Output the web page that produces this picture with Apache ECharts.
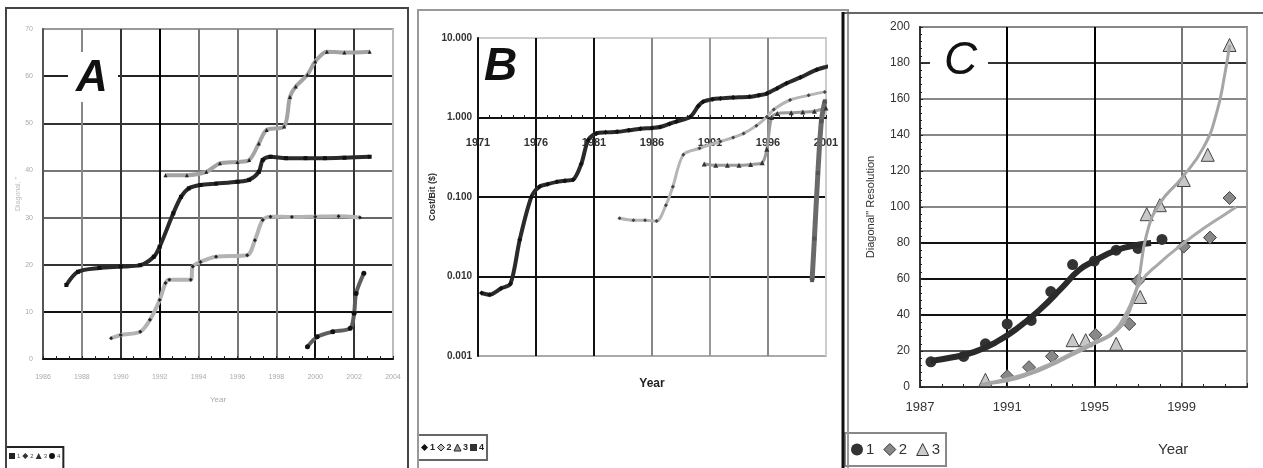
<!DOCTYPE html>
<html><head><meta charset="utf-8">
<script src="https://cdn.jsdelivr.net/npm/echarts@6/dist/echarts.min.js"></script>
<style>html,body{margin:0;padding:0;background:#fff}#c{width:1263px;height:468px}</style>
</head><body><div id="c"></div>
<script>
// ---------- Panel A : year, diagonal ----------
const aXTicks = [1986, 2004, 2];
const aYTicks = [0, 70, 10];
const a1 = [[1987.2,15.7],[1987.8,18.5],[1988.9,19.3],[1990.0,19.6],[1991.0,19.9],[1991.7,21.7],[1992.0,23.8],[1992.7,30.9],[1993.1,34.4],[1993.5,36.2],[1994.1,36.9],[1994.9,37.2],[1996.0,37.6],[1996.6,38.0],[1997.1,39.7],[1997.3,42.2],[1997.7,42.9],[1998.5,42.6],[1999.5,42.6],[2000.5,42.6],[2001.5,42.7],[2002.8,42.9]];
const a2 = [[1989.5,4.4],[1990.0,5.1],[1991.0,5.8],[1991.5,8.3],[1992.0,12.5],[1992.3,16.1],[1992.5,16.8],[1993.6,16.8],[1993.7,19.6],[1994.1,20.6],[1994.9,21.7],[1996.5,22.0],[1996.9,25.2],[1997.3,29.5],[1997.7,30.2],[1998.8,30.1],[2000.0,30.2],[2001.2,30.3],[2002.3,30.0]];
const a3 = [[1992.3,39.0],[1993.4,39.0],[1994.4,39.7],[1995.1,41.5],[1996.0,41.8],[1996.6,42.2],[1997.1,45.7],[1997.5,48.6],[1998.4,49.3],[1998.7,55.6],[1999.0,57.8],[1999.6,60.3],[2000.0,63.1],[2000.6,65.2],[2001.5,65.0],[2002.8,65.2]];
const a4 = [[1999.6,2.6],[2000.1,4.7],[2000.9,5.8],[2001.8,6.5],[2002.0,9.7],[2002.1,13.9],[2002.5,18.2]];
const aNames = ['1','2','3','4'];

// ---------- Panel B : year, log value ----------
const bXTicks = [1971, 2001, 5];
const bYLabels = [0.001, 0.01, 0.1, 1, 10];
const b1 = [[1971.3,0.0062],[1972.0,0.0059],[1973.0,0.0071],[1973.8,0.0081],[1974.6,0.029],[1975.6,0.10],[1976.3,0.135],[1977.0,0.145],[1977.8,0.155],[1978.5,0.16],[1979.2,0.165],[1979.9,0.26],[1980.5,0.52],[1981.2,0.63],[1982.0,0.65],[1983.0,0.66],[1984.0,0.69],[1985.0,0.72],[1986.0,0.74],[1986.7,0.76],[1987.5,0.83],[1988.1,0.89],[1989.3,1.02],[1990.0,1.4],[1990.4,1.58],[1991.2,1.7],[1991.9,1.74],[1993.0,1.78],[1994.4,1.82],[1995.2,1.9],[1995.9,2.0],[1996.8,2.34],[1997.6,2.7],[1998.8,3.2],[2000.2,4.0],[2001.2,4.4]];
const b2 = [[1983.2,0.054],[1984.4,0.051],[1985.4,0.051],[1986.4,0.050],[1987.2,0.079],[1987.8,0.135],[1988.7,0.34],[1990.1,0.41],[1991.9,0.50],[1993.0,0.56],[1993.9,0.63],[1995.0,0.79],[1995.9,1.02],[1996.5,1.26],[1997.9,1.66],[1999.5,1.9],[2000.9,2.1]];
const b3 = [[1990.5,0.26],[1991.5,0.25],[1992.5,0.25],[1993.5,0.25],[1994.5,0.257],[1995.5,0.27],[1995.9,0.40],[1996.3,1.0],[1996.8,1.12],[1998.0,1.15],[1999.0,1.17],[2000.0,1.2],[2001.0,1.32]];
const b4 = [[1999.8,0.009],[2000.0,0.03],[2000.3,0.2],[2000.6,0.9],[2000.9,1.6]];
const bNames = ['1','2','3','4'];

// ---------- Panel C : year, diagonal resolution ----------
const cXTicks = [1987, 2002, 4];
const cYTicks = [0, 200, 20];
const c1Pts = [[1987.5,14],[1989.0,17],[1990.0,24],[1991.0,35],[1992.1,37],[1993.0,53],[1994.0,68],[1995.0,70],[1996.0,76],[1997.0,77],[1998.1,82]];
const c2Pts = [[1991.0,6],[1992.0,11],[1993.05,17],[1995.05,29],[1996.6,35],[1997.0,59],[1999.1,78],[2000.3,83],[2001.2,105]];
const c3Pts = [[1990.0,4],[1994.0,26],[1994.6,26],[1996.0,24],[1997.1,50],[1997.4,96],[1998.0,101],[1999.1,115],[2000.2,129],[2001.2,190]];
const c1Trend = [[1987.5,14.5],[1988.5,16.5],[1989.5,19.5],[1990.5,25],[1991.5,33],[1992.5,43],[1993.5,55],[1994.3,65],[1995.0,70],[1996.0,76],[1997.0,79],[1997.6,80]];
const c2Trend = [[1990.0,2],[1991.0,4.5],[1992.0,8],[1993.0,13],[1994.0,19],[1995.0,25],[1995.8,30],[1996.5,42],[1997.1,58],[1998.0,69],[1999.0,79],[2000.0,88],[2001.0,96],[2001.5,100]];
const c3Trend = [[1989.8,1.5],[1991.0,3.5],[1992.0,7],[1993.0,12],[1994.0,18],[1995.0,24],[1996.0,31],[1996.6,42],[1997.0,58],[1997.4,85],[1998.0,102],[1999.0,116],[2000.0,133],[2000.6,152],[2001.0,175],[2001.2,190]];
const cNames = ['1','2','3'];

// ---------- helpers ----------
const shift = (arr, base) => arr.map(p => [+(p[0] - base).toFixed(3), p[1]]);
const NARROW = '"Liberation Sans Narrow","Liberation Sans",Arial,sans-serif';
const SANS = '"Liberation Sans",Arial,sans-serif';

const chart = echarts.init(document.getElementById('c'), null, {renderer: 'canvas'});

const option = {
  backgroundColor: '#fff',
  animation: false,
  grid: [
    {left: 43, top: 29, width: 350, height: 330, show: true, borderColor: '#bbb', borderWidth: 2, backgroundColor: '#fff'},
    {left: 478, top: 38, width: 348, height: 318, show: true, borderColor: '#c8c8c8', borderWidth: 2, backgroundColor: '#fff'},
    {left: 920, top: 27, width: 327, height: 360, show: true, borderColor: '#888', borderWidth: 2, backgroundColor: '#fff'}
  ],
  xAxis: [
    {type: 'value', gridIndex: 0, min: aXTicks[0], max: aXTicks[1], interval: aXTicks[2],
     axisLine: {lineStyle: {color: '#111', width: 2}},
     axisTick: {show: true, inside: true, length: 3, lineStyle: {color: '#222'}},
     minorTick: {show: true, splitNumber: 3, length: 3, lineStyle: {color: '#222'}},
     axisLabel: {formatter: v => String(v), fontSize: 7, color: '#aaa', margin: 15, fontFamily: NARROW},
     splitLine: {show: true, lineStyle: {width: 2, color: ['#111','#888','#333','#000','#777','#777','#777','#111','#333','#bbb']}},
     name: 'Year', nameLocation: 'middle', nameGap: 37, nameTextStyle: {fontSize: 8, color: '#aaa', fontFamily: SANS}},
    {type: 'value', gridIndex: 1, min: 0, max: bXTicks[1] - bXTicks[0], interval: bXTicks[2], offset: -238,
     axisLine: {onZero: false, lineStyle: {color: '#111', width: 2}},
     axisTick: {show: true, inside: true, length: 3, lineStyle: {color: '#222'}},
     minorTick: {show: true, splitNumber: 5, length: 3, lineStyle: {color: '#222'}},
     axisLabel: {formatter: v => String(v + bXTicks[0]), fontSize: 11, fontWeight: 'bold', color: '#333', margin: 19, fontFamily: NARROW},
     splitLine: {show: true, lineStyle: {width: 2, color: ['#111','#111','#111','#888','#999','#888','#ccc']}},
     name: 'Year', nameLocation: 'middle', nameGap: 260, nameTextStyle: {fontSize: 12, fontWeight: 'bold', color: '#222', fontFamily: NARROW}},
    {type: 'value', gridIndex: 2, min: 0, max: cXTicks[1] - cXTicks[0], interval: cXTicks[2],
     axisLine: {lineStyle: {color: '#333', width: 2}},
     axisTick: {show: true, inside: true, length: 4, lineStyle: {color: '#222'}},
     minorTick: {show: true, splitNumber: 4, length: 3, lineStyle: {color: '#222'}},
     axisLabel: {formatter: v => String(v + cXTicks[0]), showMaxLabel: false, fontSize: 13, color: '#333', margin: 14, fontFamily: NARROW},
     splitLine: {show: true, lineStyle: {width: 2, color: ['#000','#000','#000','#777','#999']}}}
  ],
  yAxis: [
    {type: 'value', gridIndex: 0, min: aYTicks[0], max: aYTicks[1], interval: aYTicks[2],
     axisLine: {lineStyle: {color: '#555', width: 2}},
     axisTick: {show: false},
     axisLabel: {fontSize: 7, color: '#aaa', margin: 10, fontFamily: NARROW},
     splitLine: {show: true, lineStyle: {width: 2, color: ['#111','#111','#333','#666','#777','#333','#222','#999']}},
     name: 'Diagonal, "', nameLocation: 'middle', nameGap: 21, nameTextStyle: {fontSize: 7, color: '#bbb', fontFamily: SANS}},
    {type: 'log', gridIndex: 1, logBase: 10, min: bYLabels[0], max: bYLabels[bYLabels.length - 1],
     axisLine: {lineStyle: {color: '#111', width: 2}},
     axisTick: {show: false},
     axisLabel: {formatter: v => Number(v).toFixed(3), fontSize: 10, fontWeight: 'bold', color: '#333', margin: 6, fontFamily: NARROW},
     splitLine: {show: true, lineStyle: {width: 2, color: ['#aaa','#111','#111','#111','#ccc']}},
     name: 'Cost/Bit ($)', nameLocation: 'middle', nameGap: 37, nameTextStyle: {fontSize: 9, fontWeight: 'bold', color: '#333', fontFamily: NARROW}},
    {type: 'value', gridIndex: 2, min: cYTicks[0], max: cYTicks[1], interval: cYTicks[2],
     axisLine: {lineStyle: {color: '#333', width: 2}},
     axisTick: {show: true, inside: true, length: 3, lineStyle: {color: '#222'}},
     minorTick: {show: true, splitNumber: 5, length: 2, lineStyle: {color: '#222'}},
     axisLabel: {fontSize: 12, color: '#333', margin: 10, fontFamily: NARROW},
     splitLine: {show: true, lineStyle: {width: 2, color: ['#333','#555','#111','#111','#111','#888','#888','#888','#888','#333','#888']}},
     name: 'Diagonal" Resolution', nameLocation: 'middle', nameGap: 44, nameTextStyle: {fontSize: 11, color: '#333', fontFamily: NARROW}}
  ],
  legend: [
    {left: 6, top: 447, selectedMode: false, itemWidth: 6, itemHeight: 6, itemGap: 2,
     padding: [6, 3, 10, 3], borderColor: '#222', borderWidth: 2, backgroundColor: '#fff',
     formatter: n => n.slice(1), textStyle: {fontSize: 6, color: '#444', padding: [0, 0, 0, -3]},
     data: [{name: 'A1', icon: 'rect', itemStyle: {color: '#222'}}, {name: 'A2', icon: 'diamond', itemStyle: {color: '#333'}},
            {name: 'A3', icon: 'triangle', itemStyle: {color: '#333'}}, {name: 'A4', icon: 'circle', itemStyle: {color: '#111'}}]},
    {left: 418, top: 435, selectedMode: false, itemWidth: 7, itemHeight: 7, itemGap: 2,
     padding: [8, 3, 8, 3], borderColor: '#666', borderWidth: 2, backgroundColor: '#fff',
     formatter: n => n.slice(1), textStyle: {fontSize: 9, fontWeight: 'bold', color: '#222', fontFamily: NARROW, padding: [0, 0, 0, -3]},
     data: [{name: 'B1', icon: 'diamond', itemStyle: {color: '#111'}}, {name: 'B2', icon: 'diamond', itemStyle: {color: '#bbb', borderColor: '#222', borderWidth: 1}},
            {name: 'B3', icon: 'triangle', itemStyle: {color: '#999', borderColor: '#222', borderWidth: 1}}, {name: 'B4', icon: 'rect', itemStyle: {color: '#333'}}]},
    {left: 845, top: 433, selectedMode: false, itemWidth: 12, itemHeight: 12, itemGap: 9,
     padding: [9, 6, 9, 6], borderColor: '#888', borderWidth: 2, backgroundColor: '#fff',
     formatter: n => n.slice(1), textStyle: {fontSize: 15, color: '#333', fontFamily: SANS, padding: [0, 0, 0, -2]},
     data: [{name: 'C1', icon: 'circle', itemStyle: {color: '#333'}}, {name: 'C2', icon: 'diamond', itemStyle: {color: '#888', borderColor: '#333', borderWidth: 1}},
            {name: 'C3', icon: 'triangle', itemStyle: {color: '#ccc', borderColor: '#333', borderWidth: 1}}]}
  ],
  series: [
    {name: 'A1', type: 'line', xAxisIndex: 0, yAxisIndex: 0, data: a1, smooth: 0.3, symbol: 'rect', symbolSize: 4, lineStyle: {width: 4, color: '#2a2a2a'}, itemStyle: {color: '#111'}},
    {name: 'A2', type: 'line', xAxisIndex: 0, yAxisIndex: 0, data: a2, smooth: 0.3, symbol: 'diamond', symbolSize: 4, lineStyle: {width: 4, color: '#b3b3b3'}, itemStyle: {color: '#222'}},
    {name: 'A3', type: 'line', xAxisIndex: 0, yAxisIndex: 0, data: a3, smooth: 0.3, symbol: 'triangle', symbolSize: 4, lineStyle: {width: 4, color: '#a3a3a3'}, itemStyle: {color: '#222'}},
    {name: 'A4', type: 'line', xAxisIndex: 0, yAxisIndex: 0, data: a4, smooth: 0.3, symbol: 'circle', symbolSize: 5, lineStyle: {width: 4, color: '#5e5e5e'}, itemStyle: {color: '#111'}},

    {name: 'B1', type: 'line', xAxisIndex: 1, yAxisIndex: 1, data: shift(b1, bXTicks[0]), smooth: 0.3, symbol: 'diamond', symbolSize: 5, lineStyle: {width: 4, color: '#2a2a2a'}, itemStyle: {color: '#111'}},
    {name: 'B2', type: 'line', xAxisIndex: 1, yAxisIndex: 1, data: shift(b2, bXTicks[0]), smooth: 0.3, symbol: 'diamond', symbolSize: 4, lineStyle: {width: 3, color: '#b5b5b5'}, itemStyle: {color: '#444'}},
    {name: 'B3', type: 'line', xAxisIndex: 1, yAxisIndex: 1, data: shift(b3, bXTicks[0]), smooth: 0.3, symbol: 'triangle', symbolSize: 5, lineStyle: {width: 3, color: '#9a9a9a'}, itemStyle: {color: '#333'}},
    {name: 'B4', type: 'line', xAxisIndex: 1, yAxisIndex: 1, data: shift(b4, bXTicks[0]), smooth: 0.3, symbol: 'rect', symbolSize: 4, lineStyle: {width: 5, color: '#6a6a6a'}, itemStyle: {color: '#555'}},

    {name: 'C1 trend', type: 'line', xAxisIndex: 2, yAxisIndex: 2, data: shift(c1Trend, cXTicks[0]), smooth: true, showSymbol: false, lineStyle: {width: 6, color: '#2a2a2a'}},
    {name: 'C2 trend', type: 'line', xAxisIndex: 2, yAxisIndex: 2, data: shift(c2Trend, cXTicks[0]), smooth: true, showSymbol: false, lineStyle: {width: 3, color: '#aaa'}},
    {name: 'C3 trend', type: 'line', xAxisIndex: 2, yAxisIndex: 2, data: shift(c3Trend, cXTicks[0]), smooth: true, showSymbol: false, lineStyle: {width: 3, color: '#a5a5a5'}},
    {name: 'C1', type: 'scatter', xAxisIndex: 2, yAxisIndex: 2, data: shift(c1Pts, cXTicks[0]), symbol: 'circle', symbolSize: 11, itemStyle: {color: '#333', opacity: 1}},
    {name: 'C2', type: 'scatter', xAxisIndex: 2, yAxisIndex: 2, data: shift(c2Pts, cXTicks[0]), symbol: 'diamond', symbolSize: 13, itemStyle: {color: '#888', borderColor: '#444', borderWidth: 1, opacity: 1}},
    {name: 'C3', type: 'scatter', xAxisIndex: 2, yAxisIndex: 2, data: shift(c3Pts, cXTicks[0]), symbol: 'triangle', symbolSize: 13, itemStyle: {color: '#c8c8c8', borderColor: '#444', borderWidth: 1, opacity: 1}}
  ],
  graphic: [
    {type: 'rect', z: 100, shape: {x: 6, y: 8, width: 402, height: 470}, style: {fill: 'none', stroke: '#444', lineWidth: 2}},
    {type: 'rect', z: 100, shape: {x: 418, y: 10, width: 430, height: 470}, style: {fill: 'none', stroke: '#999', lineWidth: 2}},
    {type: 'rect', z: 100, shape: {x: 843, y: 13, width: 430, height: 470}, style: {fill: 'none', stroke: '#666', lineWidth: 2}},
    {type: 'line', z: 101, shape: {x1: 843, y1: 12, x2: 843, y2: 468}, style: {stroke: '#111', lineWidth: 3}},
    {type: 'rect', z: 100, shape: {x: 68, y: 52, width: 50, height: 50}, style: {fill: '#fff'}},
    {type: 'text', z: 101, left: 76, top: 57, style: {text: 'A', font: 'italic bold 44px "Liberation Sans", Arial, sans-serif', fill: '#111'}},
    {type: 'text', z: 101, left: 484, top: 44, style: {text: 'B', font: 'italic bold 46px "Liberation Sans", Arial, sans-serif', fill: '#111'}},
    {type: 'rect', z: 100, shape: {x: 930, y: 40, width: 58, height: 46}, style: {fill: '#fff'}},
    {type: 'text', z: 101, left: 944, top: 38, style: {text: 'C', font: 'italic 46px "Liberation Sans", Arial, sans-serif', fill: '#111'}},
    {type: 'text', z: 101, left: 1158, top: 442, style: {text: 'Year', font: '15px "Liberation Sans Narrow", "Liberation Sans", Arial, sans-serif', fill: '#333'}}
  ]
};
chart.setOption(option);
</script>
</body></html>
